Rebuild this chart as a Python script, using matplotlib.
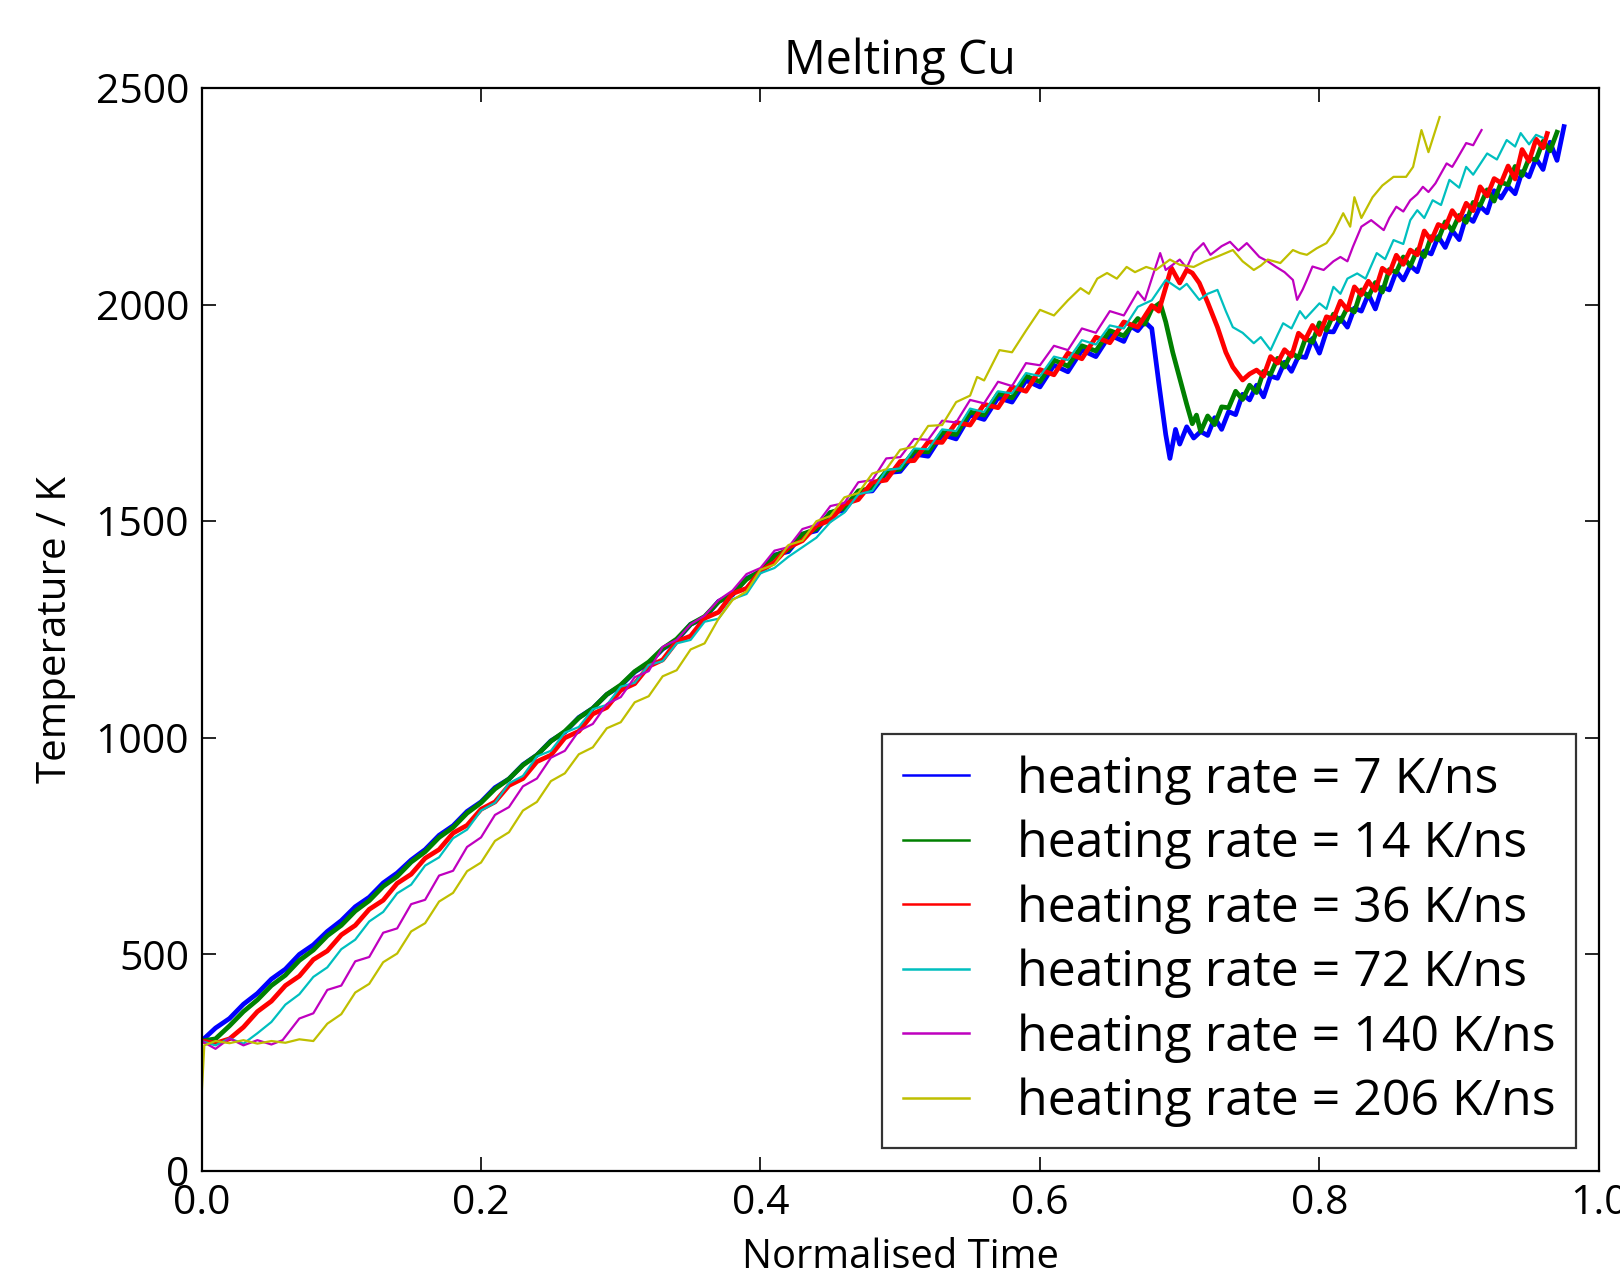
import matplotlib
matplotlib.use("Agg")
import matplotlib.pyplot as plt
from matplotlib.lines import Line2D

plt.rcParams['font.family'] = ['Open Sans', 'DejaVu Sans']

# ---------------- data ----------------
labels = ["heating rate = 7 K/ns", "heating rate = 14 K/ns", "heating rate = 36 K/ns",
          "heating rate = 72 K/ns", "heating rate = 140 K/ns", "heating rate = 206 K/ns"]

blue_pts = [
 (0.00,300),(0.01,330),(0.02,352),(0.03,385),(0.04,410),(0.05,443),(0.06,466),(0.07,500),(0.08,522),(0.09,553),
 (0.10,578),(0.11,610),(0.12,632),(0.13,665),(0.14,688),(0.15,718),(0.16,742),(0.17,775),(0.18,797),(0.19,830),
 (0.20,852),(0.21,885),(0.22,905),(0.23,938),(0.24,960),(0.25,993),(0.26,1013),(0.27,1047),(0.28,1068),(0.29,1100),
 (0.30,1120),(0.31,1152),(0.32,1172),(0.33,1205),(0.34,1225),(0.35,1262),(0.36,1277),(0.37,1315),(0.38,1330),(0.39,1368),
 (0.40,1383),(0.41,1422),(0.42,1430),(0.43,1470),(0.44,1478),(0.45,1520),(0.46,1525),(0.47,1568),(0.48,1570),(0.49,1612),
 (0.50,1615),(0.51,1655),(0.52,1650),(0.53,1700),(0.54,1690),(0.55,1745),(0.56,1735),(0.57,1785),(0.58,1775),(0.59,1825),
 (0.60,1810),(0.61,1860),(0.62,1845),(0.63,1895),(0.64,1880),(0.65,1930),(0.66,1915),(0.665,1950),(0.67,1940),(0.675,1960),
 (0.68,1945),(0.685,1820),(0.69,1700),(0.693,1645),(0.697,1712),(0.70,1678),(0.705,1718),(0.71,1692),
 (0.715,1707),(0.72,1698),(0.725,1739),(0.73,1712),(0.735,1753),(0.74,1746),(0.745,1793),(0.75,1780),(0.755,1814),(0.76,1787),
 (0.765,1835),(0.77,1830),(0.775,1867),(0.78,1846),(0.785,1881),(0.79,1878),(0.795,1922),(0.80,1888),(0.805,1938),(0.81,1937),
 (0.815,1969),(0.82,1948),(0.825,1992),(0.83,1985),(0.835,2024),(0.84,1990),(0.845,2040),(0.85,2034),(0.855,2077),(0.86,2057),
 (0.865,2090),(0.87,2076),(0.875,2124),(0.88,2117),(0.885,2157),(0.89,2132),(0.895,2171),(0.90,2150),(0.905,2204),(0.91,2192),
 (0.915,2227),(0.92,2212),(0.925,2263),(0.93,2246),(0.935,2273),(0.94,2256),(0.945,2307),(0.95,2295),(0.955,2337),(0.96,2312),
 (0.965,2375),(0.97,2333),(0.975,2411),
]

green_pts = [
 (0.00,300),(0.01,305),(0.02,335),(0.03,368),(0.04,395),(0.05,428),(0.06,452),(0.07,486),(0.08,510),(0.09,543),
 (0.10,567),(0.11,600),(0.12,624),(0.13,657),(0.14,680),(0.15,713),(0.16,737),(0.17,770),(0.18,793),(0.19,826),
 (0.20,850),(0.21,882),(0.22,905),(0.23,937),(0.24,960),(0.25,992),(0.26,1015),(0.27,1046),(0.28,1068),(0.29,1100),
 (0.30,1122),(0.31,1153),(0.32,1175),(0.33,1206),(0.34,1228),(0.35,1262),(0.36,1280),(0.37,1314),(0.38,1333),(0.39,1366),
 (0.40,1385),(0.41,1420),(0.42,1434),(0.43,1470),(0.44,1482),(0.45,1520),(0.46,1530),(0.47,1570),(0.48,1576),(0.49,1615),
 (0.50,1620),(0.51,1662),(0.52,1660),(0.53,1705),(0.54,1700),(0.55,1752),(0.56,1745),(0.57,1795),(0.58,1785),(0.59,1835),
 (0.60,1822),(0.61,1872),(0.62,1858),(0.63,1905),(0.64,1893),(0.65,1940),(0.66,1928),(0.67,1968),(0.675,1955),(0.68,1990),
 (0.686,2004),(0.69,1960),(0.695,1890),(0.70,1830),(0.705,1770),(0.709,1725),(0.712,1745),
 (0.715,1707),(0.72,1743),(0.725,1723),(0.73,1764),(0.735,1762),(0.74,1800),(0.745,1781),(0.75,1814),(0.755,1797),(0.76,1846),
 (0.765,1839),(0.77,1876),(0.775,1856),(0.78,1889),(0.785,1877),(0.79,1922),(0.795,1913),(0.80,1958),(0.805,1941),(0.81,1978),
 (0.815,1961),(0.82,1994),(0.825,1983),(0.83,2034),(0.835,2018),(0.84,2051),(0.845,2029),(0.85,2081),(0.855,2075),(0.86,2110),
 (0.865,2089),(0.87,2127),(0.875,2111),(0.88,2157),(0.885,2150),(0.89,2191),(0.895,2171),(0.90,2206),(0.905,2190),(0.91,2236),
 (0.915,2229),(0.92,2265),(0.925,2239),(0.93,2282),(0.935,2277),(0.94,2319),(0.945,2298),(0.95,2338),(0.955,2334),(0.96,2377),
 (0.965,2355),(0.97,2398),
]

red_pts = [
 (0.00,300),(0.01,295),(0.02,305),(0.03,332),(0.04,368),(0.05,392),(0.06,428),(0.07,450),(0.08,488),(0.09,508),
 (0.10,545),(0.11,567),(0.12,604),(0.13,625),(0.14,664),(0.15,685),(0.16,722),(0.17,742),(0.18,780),(0.19,798),
 (0.20,835),(0.21,852),(0.22,890),(0.23,906),(0.24,945),(0.25,960),(0.26,1000),(0.27,1015),(0.28,1055),(0.29,1070),
 (0.30,1110),(0.31,1125),(0.32,1165),(0.33,1180),(0.34,1222),(0.35,1235),(0.36,1276),(0.37,1290),(0.38,1333),(0.39,1345),
 (0.40,1385),(0.41,1405),(0.42,1440),(0.43,1455),(0.44,1490),(0.45,1502),(0.46,1540),(0.47,1550),(0.48,1590),(0.49,1595),
 (0.50,1638),(0.51,1640),(0.52,1683),(0.53,1682),(0.54,1728),(0.55,1722),(0.56,1770),(0.57,1762),(0.58,1810),(0.59,1800),
 (0.60,1850),(0.61,1838),(0.62,1888),(0.63,1875),(0.64,1925),(0.65,1912),(0.66,1960),(0.67,1948),(0.68,1998),(0.685,1985),
 (0.69,2040),(0.694,2085),(0.70,2050),(0.705,2080),(0.709,2073),(0.714,2050),(0.72,2005),(0.727,1948),(0.733,1890),(0.738,1856),
 (0.745,1826),(0.75,1840),
 (0.755,1849),(0.76,1835),(0.765,1880),(0.77,1865),(0.775,1896),(0.78,1881),(0.785,1934),(0.79,1920),(0.795,1952),(0.80,1931),
 (0.805,1972),(0.81,1967),(0.815,2008),(0.82,1988),(0.825,2041),(0.83,2023),(0.835,2054),(0.84,2033),(0.845,2084),(0.85,2072),
 (0.855,2114),(0.86,2093),(0.865,2126),(0.87,2115),(0.875,2170),(0.88,2148),(0.885,2185),(0.89,2178),(0.895,2217),(0.90,2195),
 (0.905,2234),(0.91,2217),(0.915,2272),(0.92,2251),(0.925,2291),(0.93,2281),(0.935,2320),(0.94,2290),(0.945,2358),(0.95,2331),
 (0.955,2382),(0.96,2362),(0.963,2395),
]

cyan_pts = [
 (0.00,300),(0.01,290),(0.02,306),(0.03,294),(0.04,318),(0.05,344),(0.06,384),(0.07,408),(0.08,448),(0.09,470),
 (0.10,512),(0.11,534),(0.12,576),(0.13,598),(0.14,641),(0.15,661),(0.16,705),(0.17,724),(0.18,768),(0.19,788),
 (0.20,832),(0.21,850),(0.22,895),(0.23,912),(0.24,957),(0.25,970),(0.26,1012),(0.27,1025),(0.28,1066),(0.29,1076),
 (0.30,1118),(0.31,1127),(0.32,1168),(0.33,1177),(0.34,1218),(0.35,1226),(0.36,1268),(0.37,1275),(0.38,1320),(0.39,1332),
 (0.40,1380),(0.41,1392),(0.42,1418),(0.43,1440),(0.44,1462),(0.45,1498),(0.46,1520),(0.47,1562),(0.48,1570),(0.49,1618),
 (0.50,1622),(0.51,1668),(0.52,1666),(0.53,1712),(0.54,1708),(0.55,1760),(0.56,1752),(0.57,1800),(0.58,1795),(0.59,1842),
 (0.60,1835),(0.61,1880),(0.62,1872),(0.63,1918),(0.64,1908),(0.65,1952),(0.66,1945),(0.67,1995),(0.68,2010),(0.69,2057),
 (0.70,2035),(0.705,2048),(0.714,2011),(0.72,2025),(0.727,2034),(0.733,1985),(0.738,1948),(0.745,1935),(0.753,1911),(0.758,1925),
 (0.765,1895),(0.77,1930),(0.774,1957),(0.78,1945),(0.786,1985),(0.79,1968),(0.80,2003),(0.805,1990),(0.81,2041),(0.815,2025),
 (0.82,2060),(0.827,2072),(0.833,2060),(0.841,2119),(0.847,2105),(0.853,2149),(0.86,2140),(0.865,2195),(0.87,2218),(0.875,2200),
 (0.881,2241),(0.887,2230),(0.893,2288),(0.90,2270),(0.905,2318),(0.91,2300),(0.92,2349),(0.927,2335),(0.934,2380),(0.94,2365),
 (0.944,2396),(0.95,2370),(0.955,2392),(0.96,2385),
]

magenta_pts = [
 (0.00,300),(0.01,282),(0.02,306),(0.03,290),(0.04,302),(0.05,292),(0.058,302),(0.07,352),(0.08,364),(0.09,418),
 (0.10,428),(0.11,484),(0.12,494),(0.13,550),(0.14,560),(0.15,616),(0.16,626),(0.17,682),(0.18,693),(0.19,748),
 (0.20,770),(0.21,822),(0.22,840),(0.23,888),(0.24,906),(0.25,954),(0.26,970),(0.27,1016),(0.28,1032),(0.29,1078),
 (0.30,1094),(0.31,1140),(0.32,1154),(0.33,1210),(0.34,1226),(0.35,1262),(0.36,1282),(0.37,1318),(0.38,1340),(0.39,1378),
 (0.40,1392),(0.41,1432),(0.42,1440),(0.43,1482),(0.44,1492),(0.45,1535),(0.46,1542),(0.47,1590),(0.48,1595),(0.49,1645),
 (0.50,1648),(0.51,1690),(0.52,1688),(0.53,1732),(0.54,1728),(0.55,1780),(0.56,1772),(0.57,1822),(0.58,1812),(0.59,1865),
 (0.60,1860),(0.61,1905),(0.62,1895),(0.63,1945),(0.64,1935),(0.65,1985),(0.66,1975),(0.67,2030),(0.675,2010),(0.68,2060),
 (0.686,2119),(0.69,2080),(0.70,2104),(0.705,2085),(0.71,2120),(0.717,2142),(0.722,2115),(0.73,2135),(0.736,2145),(0.742,2125),
 (0.748,2142),(0.757,2110),(0.763,2100),(0.769,2087),(0.775,2075),(0.781,2057),(0.784,2011),(0.788,2035),(0.791,2057),(0.795,2088),
 (0.803,2080),(0.81,2100),(0.815,2110),(0.82,2100),(0.824,2134),(0.830,2180),(0.837,2195),(0.846,2172),(0.85,2200),(0.855,2226),
 (0.86,2215),(0.865,2241),(0.87,2255),(0.874,2272),(0.878,2260),(0.883,2280),(0.891,2326),(0.895,2318),(0.898,2334),(0.905,2373),
 (0.91,2368),(0.912,2380),(0.916,2403),
]

yellow_pts = [
 (0.000,170),(0.002,290),(0.01,300),(0.02,295),(0.03,302),(0.04,294),(0.05,300),(0.06,296),(0.07,304),(0.08,300),
 (0.09,340),(0.10,362),(0.11,412),(0.12,432),(0.13,482),(0.14,502),(0.15,553),(0.16,572),(0.17,622),(0.18,642),
 (0.19,692),(0.20,712),(0.21,762),(0.22,782),(0.23,832),(0.24,852),(0.25,900),(0.26,918),(0.27,962),(0.28,978),
 (0.29,1022),(0.30,1036),(0.31,1082),(0.32,1096),(0.33,1142),(0.34,1156),(0.35,1204),(0.36,1218),(0.37,1275),(0.38,1318),
 (0.39,1338),(0.40,1388),(0.41,1400),(0.42,1445),(0.43,1455),(0.44,1500),(0.45,1512),(0.46,1555),(0.47,1565),(0.48,1610),
 (0.49,1620),(0.50,1665),(0.51,1672),(0.52,1720),(0.53,1722),(0.54,1775),(0.55,1790),(0.555,1833),(0.56,1825),(0.571,1895),
 (0.58,1890),(0.59,1940),(0.60,1988),(0.61,1975),(0.62,2010),(0.629,2038),(0.635,2025),(0.641,2060),(0.648,2073),(0.655,2060),
 (0.662,2087),(0.668,2075),(0.676,2087),(0.683,2080),(0.693,2104),(0.70,2092),(0.710,2087),(0.718,2100),(0.727,2111),(0.738,2126),
 (0.745,2100),(0.753,2080),(0.758,2090),(0.763,2104),(0.772,2096),(0.781,2126),(0.786,2119),(0.791,2115),(0.798,2130),(0.805,2142),
 (0.81,2165),(0.817,2211),(0.822,2180),(0.825,2248),(0.83,2200),(0.838,2248),(0.845,2275),(0.853,2295),(0.862,2295),(0.867,2318),
 (0.873,2403),(0.878,2352),(0.886,2433),
]

series = [blue_pts, green_pts, red_pts, cyan_pts, magenta_pts, yellow_pts]
colors = [(0, 0, 1), (0, 0.5, 0), (1, 0, 0), (0, 0.75, 0.75), (0.75, 0, 0.75), (0.75, 0.75, 0)]
widths = [3.4, 3.4, 3.4, 1.6, 1.6, 1.6]

x_ticks = [0.0, 0.2, 0.4, 0.6, 0.8, 1.0]
y_ticks = [0, 500, 1000, 1500, 2000, 2500]

# ---------------- figure ----------------
fig = plt.figure(figsize=(16.2, 12.76), dpi=100, facecolor='white')
ax = fig.add_axes([0.1244, 0.0823, 0.8626, 0.8487])

for pts, c, lw in zip(series, colors, widths):
    xs = [p[0] for p in pts]
    ys = [p[1] for p in pts]
    ax.plot(xs, ys, color=c, lw=lw)

ax.set_xlim(0, 1.0)
ax.set_ylim(0, 2500)
ax.set_xticks(x_ticks)
ax.set_xticklabels([f"{v:.1f}" for v in x_ticks])
ax.set_yticks(y_ticks)
ax.set_yticklabels([str(v) for v in y_ticks])
ax.tick_params(direction='in', top=True, right=True, length=10, width=1.2,
               labelsize=29.5, pad=9, colors='black')
for s in ax.spines.values():
    s.set_linewidth(1.6)

ax.set_title('Melting Cu', fontsize=33.5, pad=10)
ax.set_xlabel('Normalised Time', fontsize=28.7, labelpad=10)
ax.set_ylabel('Temperature / K', fontsize=29, labelpad=14)

handles = [Line2D([], [], color=c, lw=1.8) for c in colors]
leg = ax.legend(handles, labels, loc='lower right', fontsize=36, frameon=True,
                fancybox=False, edgecolor='black', handlelength=1.32,
                handletextpad=0.95, borderpad=0.42, labelspacing=0.3,
                borderaxespad=0.45)
leg.get_frame().set_linewidth(1.6)

fig.savefig('out.png', dpi=100, facecolor='white')
